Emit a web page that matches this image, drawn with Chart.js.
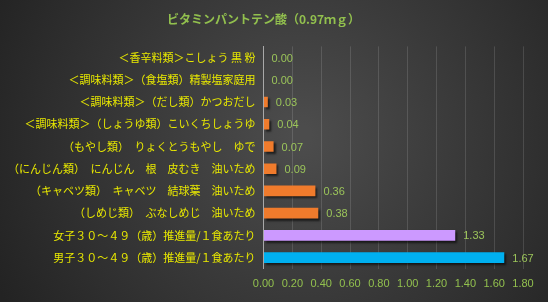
<!DOCTYPE html>
<html>
<head>
<meta charset="utf-8">
<script src="https://cdn.jsdelivr.net/npm/chart.js@4"></script>
<style>
  html, body { margin: 0; padding: 0; background: #2b2b2b; }
  #wrap { width: 548px; height: 302px; }
</style>
</head>
<body>
<div id="wrap"><canvas id="pantoChart" width="548" height="302"></canvas></div>
<script>
const titleText = 'ビタミンパントテン酸（0.97ｍｇ）';
const foodLabels = [
    '＜香辛料類＞こしょう 黒 粉',
    '＜調味料類＞（食塩類）精製塩家庭用',
    '＜調味料類＞（だし類）かつおだし',
    '＜調味料類＞（しょうゆ類）こいくちしょうゆ',
    '（もやし類）　りょくとうもやし　ゆで',
    '（にんじん類）　にんじん　根　皮むき　油いため',
    '（キャベツ類）　キャベツ　結球葉　油いため',
    '（しめじ類）　ぶなしめじ　油いため',
    '女子３０～４９（歳）推進量/１食あたり',
    '男子３０～４９（歳）推進量/１食あたり'
];
const amounts = [0.00, 0.00, 0.03, 0.04, 0.07, 0.09, 0.36, 0.38, 1.33, 1.67];
const barColors = ['#f07b2c', '#f07b2c', '#f07b2c', '#f07b2c', '#f07b2c', '#f07b2c', '#f07b2c', '#f07b2c', '#cc99ff', '#00b0f0'];
const xTicks = [0, 0.2, 0.4, 0.6, 0.8, 1.0, 1.2, 1.4, 1.6, 1.8];

const jpFont = '"Noto Sans CJK JP", "Noto Sans", sans-serif';

const backdrop = {
    id: 'backdrop',
    beforeDraw(chart) {
        const { ctx, width, height } = chart;
        const g = ctx.createRadialGradient(width * 0.55, height * 0.45, 10, width * 0.55, height * 0.45, width * 0.62);
        g.addColorStop(0, '#4c4c4c');
        g.addColorStop(1, '#232323');
        ctx.save();
        ctx.fillStyle = g;
        ctx.fillRect(0, 0, width, height);
        ctx.restore();
    }
};

const barShadow = {
    id: 'barShadow',
    beforeDatasetDraw(chart) {
        const ctx = chart.ctx;
        ctx.save();
        ctx.shadowColor = 'rgba(0,0,0,0.6)';
        ctx.shadowOffsetX = 2;
        ctx.shadowOffsetY = 2;
        ctx.shadowBlur = 2;
    },
    afterDatasetDraw(chart) {
        chart.ctx.restore();
    }
};

const valueLabels = {
    id: 'valueLabels',
    afterDatasetsDraw(chart) {
        const { ctx } = chart;
        const meta = chart.getDatasetMeta(0);
        ctx.save();
        ctx.font = '11px "Liberation Sans", sans-serif';
        ctx.fillStyle = '#9bc45a';
        ctx.textBaseline = 'middle';
        meta.data.forEach((bar, i) => {
            ctx.fillText(amounts[i].toFixed(2), bar.x + 8, bar.y + 1);
        });
        ctx.restore();
    }
};

new Chart(document.getElementById('pantoChart').getContext('2d'), {
    type: 'bar',
    data: {
        labels: foodLabels,
        datasets: [{ data: amounts, backgroundColor: barColors, categoryPercentage: 1, barPercentage: 0.48 }]
    },
    options: {
        indexAxis: 'y',
        responsive: false,
        animation: false,
        layout: { padding: { left: 4, right: 25, top: 2, bottom: 2 } },
        plugins: {
            legend: { display: false },
            tooltip: { enabled: false },
            title: { display: true, text: titleText, color: '#92c04e', font: { family: jpFont, size: 12, weight: 'bold' }, padding: { top: 10, bottom: 20 } }
        },
        scales: {
            x: {
                min: 0, max: 1.8,
                afterBuildTicks(axis) { axis.ticks = xTicks.map(v => ({ value: v })); },
                grid: { color: 'rgba(255,255,255,0.13)', drawTicks: false },
                border: { display: false },
                ticks: { color: '#92c04e', padding: 9, font: { family: '"Liberation Sans", sans-serif', size: 11 }, callback: v => Number(v).toFixed(2) }
            },
            y: {
                grid: { display: false, drawTicks: false },
                border: { display: true, color: '#a8a8a8', width: 1 },
                ticks: { color: '#e8e800', padding: 8, font: { family: jpFont, size: 11 }, autoSkip: false }
            }
        }
    },
    plugins: [backdrop, barShadow, valueLabels]
});
</script>
</body>
</html>
